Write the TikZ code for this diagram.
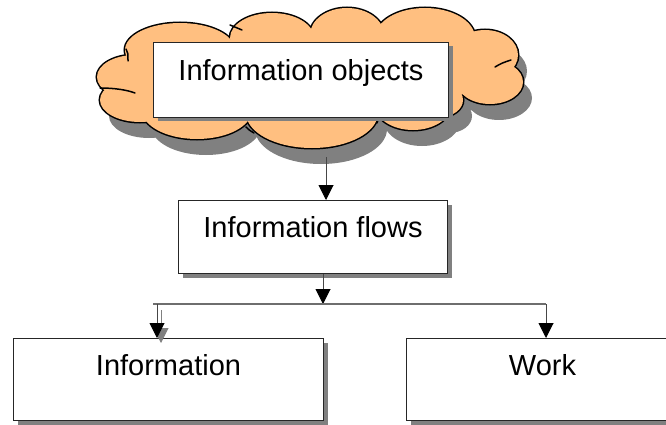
\documentclass[tikz,border=0pt]{standalone}
\usepackage{fontspec}
\setmainfont{Liberation Sans}
\usetikzlibrary{arrows.meta,shadows}
\definecolor{peach}{RGB}{255,191,128}
\definecolor{shadowgray}{RGB}{128,128,128}
\definecolor{linegray}{RGB}{70,70,70}
\definecolor{hgray}{RGB}{110,110,110}
\tikzset{
  box/.style={draw=black!85, line width=1pt, fill=white, inner sep=0pt,
    anchor=north west, font=\fontsize{29}{34}\selectfont,
    general shadow={fill=shadowgray, shadow xshift=4pt, shadow yshift=-4pt}},
  conn/.style={draw=linegray, line width=1pt,
    -{Triangle[width=15pt,length=15pt,color=black]}},
  connshadow/.style={draw=shadowgray, line width=1pt,
    -{Triangle[width=15pt,length=15pt,color=shadowgray]}},
  hline/.style={draw=hgray, line width=1.3pt},
  cloudline/.style={draw=black, line width=1.5pt, line cap=round},
}
\begin{document}
\begin{tikzpicture}[x=1pt,y=-1pt]
\useasboundingbox (0,0) rectangle (666,425);
\clip (0,0) rectangle (666,425);
\def\lobes{180/50/55/27, 272/38/42/25, 347/35/37/27, 425/38/50/30, 485/55/33/25, 490/82/33/22, 440/100/23/17, 413/105/38/25, 312/113/66/35, 197/110/55/29, 140/100/40/22, 135/77/38/22}
\def\fillers{310/78/140/40, 455/70/30/25}
% cloud shadow
\foreach \cx/\cy/\rx/\ry in \lobes {
  \fill[shadowgray] (\cx+9,\cy+16) ellipse [x radius=\rx, y radius=\ry];
}
\foreach \cx/\cy/\rx/\ry in \fillers {
  \fill[shadowgray] (\cx+9,\cy+16) ellipse [x radius=\rx, y radius=\ry];
}
% cloud outline
\foreach \cx/\cy/\rx/\ry in \lobes {
  \draw[black, line width=3pt] (\cx,\cy) ellipse [x radius=\rx, y radius=\ry];
}
% cloud fill
\foreach \cx/\cy/\rx/\ry in \lobes {
  \fill[peach] (\cx,\cy) ellipse [x radius=\rx, y radius=\ry];
}
\foreach \cx/\cy/\rx/\ry in \fillers {
  \fill[peach] (\cx,\cy) ellipse [x radius=\rx, y radius=\ry];
}
% inner strokes of the cloud
\draw[cloudline] (100,88) .. controls (115,88) and (127,90) .. (135,93);
\draw[cloudline] (126,49) .. controls (128,53) .. (128,61);
\draw[cloudline] (230,25) .. controls (236,27) .. (242,30);
\draw[cloudline] (495,67) .. controls (502,63) .. (511,60);
\draw[cloudline] (246,127) .. controls (249,130) .. (254,133);
\draw[cloudline] (377,123) .. controls (378,120) .. (379,117);

% boxes
\node[box, minimum width=295pt, text height=38pt, text depth=37pt] (objects) at (153,42) {Information objects};
\node[box, minimum width=269pt, text height=37pt, text depth=36pt] (flows) at (178,200) {Information flows};
\node[box, minimum width=310pt, text height=37pt, text depth=45pt] (info) at (13,338) {Information};
\node[box, minimum width=272pt, text height=37pt, text depth=45pt] (work) at (406,338) {Work};

% connector coordinates
\coordinate (cloudbot) at (326,157);
\coordinate (split) at (323,304);
\coordinate (bl) at (153,304);
\coordinate (br) at (546,304);
\coordinate (la) at (157,304);
\coordinate (lat) at (la |- info.north);

% connectors
\draw[conn] (cloudbot) -- (cloudbot |- flows.north);
\draw[conn] (split |- flows.south) -- (split);
\draw[hline] (bl) -- (br);
\draw[connshadow] ([shift={(4,6)}]la) -- ([shift={(4,5)}]lat);
\draw[conn] (la) -- (lat);
\draw[conn] (br) -- (br |- work.north);
\end{tikzpicture}
\end{document}
